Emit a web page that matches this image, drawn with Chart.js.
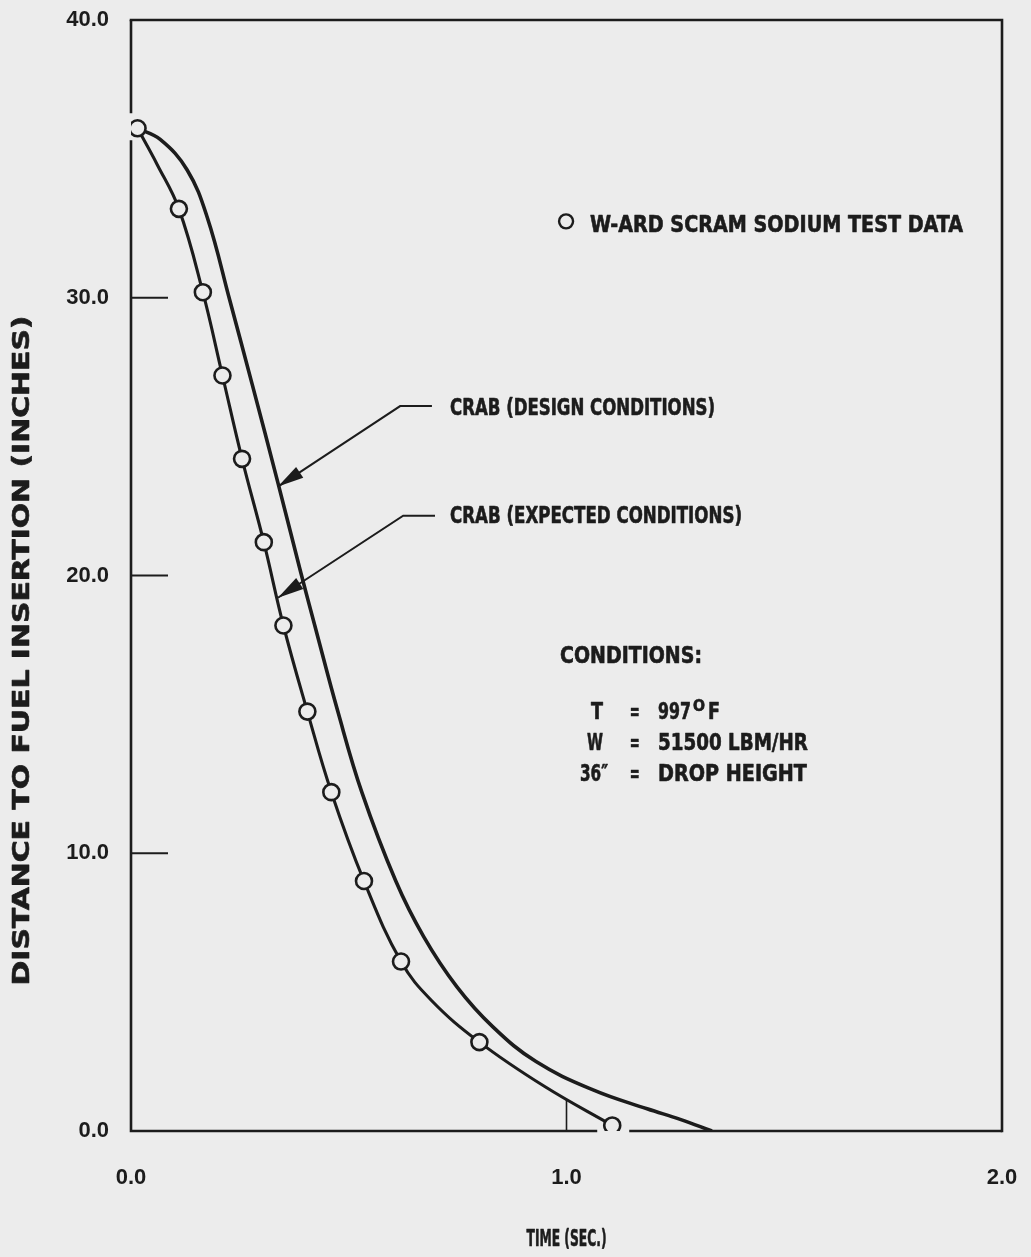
<!DOCTYPE html>
<html>
<head>
<meta charset="utf-8">
<script src="https://cdn.jsdelivr.net/npm/chart.js@4/dist/chart.umd.min.js"></script>
<style>
  html, body { margin: 0; padding: 0; background: #ececec; }
  canvas { display: block; }
</style>
</head>
<body>
<canvas id="scram" width="1031" height="1257"></canvas>
<script>
// W-ARD scram sodium test: measured points (time in s, distance to fuel insertion in inches)
const testTime = [0.015, 0.11, 0.165, 0.21, 0.255, 0.305, 0.35, 0.405, 0.46, 0.535, 0.62, 0.80, 1.105];
const testDist = [36.1, 33.2, 30.2, 27.2, 24.2, 21.2, 18.2, 15.1, 12.2, 9.0, 6.1, 3.2, 0.2];

// CRAB prediction, expected conditions
const expectedTime = [0.015, 0.06, 0.11, 0.165, 0.21, 0.255, 0.305, 0.35, 0.405, 0.46, 0.535, 0.62, 0.69, 0.80, 0.95, 1.105];
const expectedDist = [36.1, 34.8, 33.2, 30.2, 27.2, 24.2, 21.2, 18.2, 15.1, 12.2, 9.0, 6.1, 4.7, 3.2, 1.6, 0.2];

// CRAB prediction, design conditions
const designTime = [0.014, 0.067, 0.129, 0.175, 0.227, 0.278, 0.338, 0.39, 0.422, 0.475, 0.53, 0.608, 0.672, 0.748, 0.831, 0.93, 1.061, 1.185, 1.261, 1.334];
const designDist = [36.1, 35.7, 34.6, 32.9, 29.9, 26.9, 23.3, 20.1, 18.2, 15.1, 12.2, 9.0, 7.0, 5.2, 3.75, 2.5, 1.48, 0.80, 0.42, 0.0];

// Axis ranges and tick values
const xTicks = [0.0, 1.0, 2.0];
const yTicks = [0.0, 10.0, 20.0, 30.0, 40.0];

// Text labels
const legendLabel = 'W-ARD SCRAM SODIUM TEST DATA';
const designLabel = 'CRAB (DESIGN CONDITIONS)';
const expectedLabel = 'CRAB (EXPECTED CONDITIONS)';
const xTitle = 'TIME (SEC.)';
const yTitle = 'DISTANCE TO FUEL INSERTION (INCHES)';

const PAPER = '#ececec';
const INK = '#1c1c1c';
const NARROW = '"Liberation Sans Narrow", "DejaVu Sans Condensed", "Liberation Sans", sans-serif';

const pts = (xs, ys) => xs.map((x, i) => ({ x, y: ys[i] }));

// Draw text squeezed/stretched to a given width, slightly emboldened
function fitText(ctx, text, x, y, width, align) {
  const w = ctx.measureText(text).width;
  ctx.save();
  ctx.translate(x, y);
  ctx.scale(width / w, 1);
  ctx.textAlign = 'left';
  ctx.textBaseline = 'middle';
  let ox = 0;
  if (align === 'center') ox = -w / 2;
  else if (align === 'right') ox = -w;
  ctx.lineWidth = 0.6;
  ctx.lineJoin = 'round';
  ctx.fillText(text, ox, 0);
  ctx.strokeText(text, ox, 0);
  ctx.restore();
}

function arrow(ctx, xs, ys, seg) {
  const y0 = ys.getPixelForValue(seg.barY);
  const xr = xs.getPixelForValue(seg.barTo);
  const xl = xs.getPixelForValue(seg.barFrom);
  const tx = xs.getPixelForValue(seg.tipX);
  const ty = ys.getPixelForValue(seg.tipY);
  ctx.lineWidth = 2;
  ctx.beginPath();
  ctx.moveTo(xr, y0);
  ctx.lineTo(xl, y0);
  ctx.lineTo(tx, ty);
  ctx.stroke();
  const ang = Math.atan2(ty - y0, tx - xl);
  const len = 26, hw = 6.5;
  const bx = tx - len * Math.cos(ang), by = ty - len * Math.sin(ang);
  ctx.beginPath();
  ctx.moveTo(tx, ty);
  ctx.lineTo(bx + hw * Math.sin(ang), by - hw * Math.cos(ang));
  ctx.lineTo(bx - hw * Math.sin(ang), by + hw * Math.cos(ang));
  ctx.closePath();
  ctx.fill();
}

const frame = {
  id: 'frame',
  beforeDraw(chart) {
    const ctx = chart.ctx;
    ctx.save();
    ctx.fillStyle = PAPER;
    ctx.fillRect(0, 0, chart.width, chart.height);
    ctx.restore();
  },
  beforeDatasetsDraw(chart) {
    const { ctx, chartArea: a, scales: { x, y } } = chart;
    // gaps in the frame where a test circle sits on an axis
    const leftGaps = [], bottomGaps = [];
    testTime.forEach((t, i) => {
      const px = x.getPixelForValue(t), py = y.getPixelForValue(testDist[i]);
      if (Math.abs(px - a.left) < 12) leftGaps.push([py - 15, py + 12]);
      if (Math.abs(py - a.bottom) < 12) bottomGaps.push([px - 15, px + 17]);
    });
    ctx.save();
    ctx.strokeStyle = INK;
    ctx.lineWidth = 2.6;
    ctx.lineCap = 'square';
    ctx.beginPath();
    ctx.moveTo(a.left, a.top);
    ctx.lineTo(a.right, a.top);
    ctx.lineTo(a.right, a.bottom);
    ctx.stroke();
    ctx.lineCap = 'butt';
    let cur = a.top;
    ctx.beginPath();
    leftGaps.sort((p, q) => p[0] - q[0]).forEach(g => {
      ctx.moveTo(a.left, cur); ctx.lineTo(a.left, g[0]); cur = g[1];
    });
    ctx.moveTo(a.left, cur); ctx.lineTo(a.left, a.bottom + 1.3);
    cur = a.left - 1.3;
    bottomGaps.sort((p, q) => p[0] - q[0]).forEach(g => {
      ctx.moveTo(cur, a.bottom); ctx.lineTo(g[0], a.bottom); cur = g[1];
    });
    ctx.moveTo(cur, a.bottom); ctx.lineTo(a.right, a.bottom);
    ctx.stroke();
    // inward tick marks
    ctx.lineWidth = 2;
    ctx.beginPath();
    yTicks.slice(1, -1).forEach(v => {
      const py = y.getPixelForValue(v);
      ctx.moveTo(a.left, py); ctx.lineTo(a.left + 37, py);
    });
    ctx.stroke();
    ctx.lineWidth = 1.6;
    ctx.beginPath();
    xTicks.slice(1, -1).forEach(v => {
      const px = x.getPixelForValue(v);
      ctx.moveTo(px, a.bottom); ctx.lineTo(px, a.bottom - 32);
    });
    ctx.stroke();
    ctx.restore();
  },
  afterDatasetsDraw(chart) {
    const { ctx, chartArea: a, scales: { x, y } } = chart;
    ctx.save();
    ctx.fillStyle = INK;
    ctx.strokeStyle = INK;
    ctx.font = 'bold 23px ' + NARROW;

    // legend
    ctx.lineWidth = 2.4;
    ctx.beginPath();
    ctx.arc(x.getPixelForValue(0.999), y.getPixelForValue(32.75), 7, 0, Math.PI * 2);
    ctx.stroke();
    fitText(ctx, legendLabel, x.getPixelForValue(1.054), y.getPixelForValue(32.6), 373, 'left');

    // arrows and curve labels
    arrow(ctx, x, y, { barY: 26.1, barTo: 0.691, barFrom: 0.618, tipX: 0.3375, tipY: 23.2 });
    fitText(ctx, designLabel, x.getPixelForValue(0.7325), y.getPixelForValue(26.0), 265, 'left');
    arrow(ctx, x, y, { barY: 22.15, barTo: 0.698, barFrom: 0.625, tipX: 0.3375, tipY: 19.2 });
    fitText(ctx, expectedLabel, x.getPixelForValue(0.7325), y.getPixelForValue(22.1), 292, 'left');

    // test conditions block
    const col0 = x.getPixelForValue(0.985);
    fitText(ctx, 'CONDITIONS:', col0, y.getPixelForValue(17.06), 142, 'left');
    const symX = x.getPixelForValue(1.07), eqX = x.getPixelForValue(1.157), valX = x.getPixelForValue(1.21);
    const r1 = y.getPixelForValue(15.05), r2 = y.getPixelForValue(13.95), r3 = y.getPixelForValue(12.8);
    fitText(ctx, 'T', symX, r1, 12, 'center');
    fitText(ctx, '=', eqX, r1, 10, 'center');
    fitText(ctx, '997', valX, r1, 33, 'left');
    ctx.font = 'bold 15px ' + NARROW;
    fitText(ctx, 'O', valX + 35, r1 - 6, 12, 'left');
    ctx.font = 'bold 23px ' + NARROW;
    fitText(ctx, 'F', valX + 50, r1, 12, 'left');
    fitText(ctx, 'W', symX - 2, r2, 16, 'center');
    fitText(ctx, '=', eqX, r2, 10, 'center');
    fitText(ctx, '51500 LBM/HR', valX, r2, 150, 'left');
    fitText(ctx, '36\u2033', symX + 11, r3, 28, 'right');
    fitText(ctx, '=', eqX, r3, 10, 'center');
    fitText(ctx, 'DROP HEIGHT', valX, r3, 149, 'left');

    // axis titles
    ctx.font = 'bold 23px ' + NARROW;
    fitText(ctx, xTitle, (a.left + a.right) / 2, a.bottom + 109, 80, 'center');
    ctx.save();
    ctx.translate(a.left - 108, y.getPixelForValue(17.3));
    ctx.rotate(-Math.PI / 2);
    fitText(ctx, yTitle, 0, 0, 670, 'center');
    ctx.restore();
    ctx.restore();
  }
};

const axisFont = { family: '"Liberation Sans", Arial, sans-serif', weight: 'bold', size: 22 };

new Chart(document.getElementById('scram'), {
  type: 'scatter',
  data: {
    datasets: [
      {
        label: designLabel,
        data: pts(designTime, designDist),
        showLine: true,
        borderColor: INK,
        borderWidth: 3.6,
        pointRadius: 0,
        tension: 0.4,
        order: 3
      },
      {
        label: expectedLabel,
        data: pts(expectedTime, expectedDist),
        showLine: true,
        borderColor: INK,
        borderWidth: 3.1,
        pointRadius: 0,
        tension: 0.4,
        order: 2
      },
      {
        label: legendLabel,
        data: pts(testTime, testDist),
        showLine: false,
        pointStyle: 'circle',
        pointRadius: 8,
        pointBorderWidth: 2.6,
        pointBorderColor: INK,
        pointBackgroundColor: PAPER,
        order: 1
      }
    ]
  },
  options: {
    responsive: false,
    devicePixelRatio: 1,
    animation: false,
    layout: { padding: { top: 20, right: 29, left: 0, bottom: 0 } },
    plugins: { legend: { display: false }, tooltip: { enabled: false } },
    scales: {
      x: {
        type: 'linear',
        min: xTicks[0],
        max: xTicks[xTicks.length - 1],
        afterFit(s) { s.height = 126; s.paddingLeft = 0; s.paddingRight = 0; },
        afterBuildTicks(s) { s.ticks = xTicks.map(v => ({ value: v })); },
        grid: { display: false, drawTicks: false },
        border: { display: false },
        ticks: { padding: 34, color: INK, font: axisFont, callback: v => Number(v).toFixed(1) }
      },
      y: {
        type: 'linear',
        min: yTicks[0],
        max: yTicks[yTicks.length - 1],
        afterFit(s) { s.width = 131; s.paddingTop = 0; s.paddingBottom = 0; },
        afterBuildTicks(s) { s.ticks = yTicks.map(v => ({ value: v })); },
        grid: { display: false, drawTicks: false },
        border: { display: false },
        ticks: { padding: 22, color: INK, font: axisFont, callback: v => Number(v).toFixed(1) }
      }
    }
  },
  plugins: [frame]
});
</script>
</body>
</html>
